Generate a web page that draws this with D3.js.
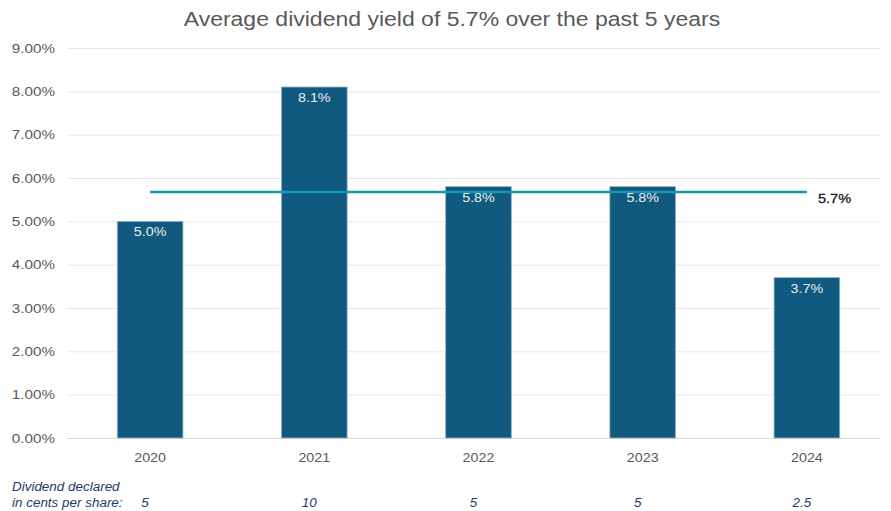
<!DOCTYPE html>
<html><head><meta charset="utf-8">
<script src="https://cdn.jsdelivr.net/npm/d3@7"></script>
<style>body{margin:0;background:#fff;} svg{display:block;font-family:"Liberation Sans",Arial,sans-serif;}</style>
</head><body><svg id="c" width="891" height="511"></svg>
<script>
const title = "Average dividend yield of 5.7% over the past 5 years";
const years = ["2020","2021","2022","2023","2024"];
const yields = [5.0, 8.1, 5.8, 5.8, 3.7];
const average = 5.7;
const dividends = ["5","10","5","5","2.5"];
const yTicks = [0,1,2,3,4,5,6,7,8,9];
const footLines = ["Dividend declared","in cents per share:"];

const svg = d3.select("#c");
const x = d3.scaleBand().domain(years).range([68, 889]).paddingInner(0.6).paddingOuter(0.3);
const y = d3.scaleLinear().domain([0, 9]).range([438, 48]);

function stretch(sel, f) {
  sel.each(function() {
    const w = this.getComputedTextLength();
    d3.select(this).attr("textLength", w * f).attr("lengthAdjust", "spacingAndGlyphs");
  });
}

const t = svg.append("text").attr("x", 452).attr("y", 26).attr("text-anchor","middle")
  .attr("font-size", 20).attr("fill", "#595959").text(title);
stretch(t, 1.15);

// grid
svg.append("g").selectAll("line").data(yTicks).join("line")
  .attr("x1", 67).attr("x2", 880)
  .attr("y1", d => y(d)+0.5).attr("y2", d => y(d)+0.5)
  .attr("stroke", d => d===0 ? "#d9d9d9" : "#e8e8e8").attr("stroke-width", 1);

// y axis labels
const yAxis = d3.axisLeft(y).tickValues(yTicks).tickFormat(d => d.toFixed(2)+"%").tickSize(0).tickPadding(0);
const ya = svg.append("g").attr("transform","translate(55,0)").call(yAxis);
ya.select(".domain").remove();
ya.selectAll("text").attr("font-size", 13).attr("fill","#595959").attr("font-family","Liberation Sans, Arial, sans-serif");
stretch(ya.selectAll("text"), 1.17);

// bars
svg.append("g").selectAll("rect").data(years).join("rect")
  .attr("x", d => x(d)).attr("width", x.bandwidth())
  .attr("y", (d,i) => y(yields[i])).attr("height", (d,i) => y(0) - y(yields[i]))
  .attr("fill", "#11597e").attr("stroke","#8fb3c8").attr("stroke-width",0.8);

// average line
svg.append("line").attr("x1", x(years[0]) + x.bandwidth()/2).attr("x2", x(years[4]) + x.bandwidth()/2)
  .attr("y1", y(average)+1).attr("y2", y(average)+1).attr("stroke","#1497b3").attr("stroke-width",2.5);
const al = svg.append("text").attr("x", x(years[4]) + x.bandwidth()/2 + 11).attr("y", y(average)+12)
  .attr("font-size", 13).attr("fill","#1a1a1a").attr("stroke","#1a1a1a").attr("stroke-width",0.3)
  .text(average.toFixed(1)+"%");
stretch(al, 1.12);

// bar labels
const bl = svg.append("g").selectAll("text").data(years).join("text")
  .attr("x", d => x(d) + x.bandwidth()/2).attr("y", (d,i) => y(yields[i]) + 15)
  .attr("text-anchor","middle").attr("font-size", 13).attr("fill","#e8eef3")
  .text((d,i) => yields[i].toFixed(1)+"%");
stretch(bl, 1.1);

// x axis labels
const xAxis = d3.axisBottom(x).tickSize(0).tickPadding(0);
const xa = svg.append("g").attr("transform","translate(0,453)").call(xAxis);
xa.select(".domain").remove();
xa.selectAll("text").attr("font-size", 13).attr("fill","#595959").attr("font-family","Liberation Sans, Arial, sans-serif");
stretch(xa.selectAll("text"), 1.1);

// footer
const fl = svg.append("g").selectAll("text").data(footLines).join("text")
  .attr("x", 12).attr("y", (d,i) => 491 + i*16).attr("font-size", 12).attr("font-style","italic")
  .attr("fill","#243a6b").text(d => d);
stretch(fl, 1.12);
const dv = svg.append("g").selectAll("text").data(years).join("text")
  .attr("x", d => x(d) + x.bandwidth()/2 - 5).attr("y", 507).attr("text-anchor","middle")
  .attr("font-size", 12).attr("font-style","italic").attr("fill","#243a6b")
  .text((d,i) => dividends[i]);
stretch(dv, 1.12);
</script></body></html>
